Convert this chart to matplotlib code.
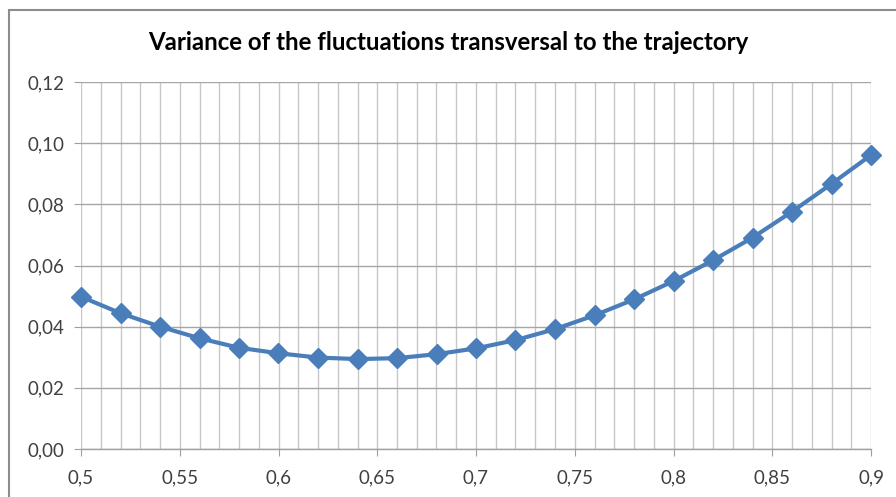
import matplotlib
matplotlib.use("Agg")
import matplotlib.pyplot as plt
from matplotlib.ticker import MultipleLocator, FuncFormatter
from matplotlib.patches import Rectangle

x_values = [0.50, 0.52, 0.54, 0.56, 0.58, 0.60, 0.62, 0.64, 0.66, 0.68, 0.70,
            0.72, 0.74, 0.76, 0.78, 0.80, 0.82, 0.84, 0.86, 0.88, 0.90]
variance = [0.0498, 0.0444, 0.0400, 0.0362, 0.0331, 0.0313, 0.0299, 0.0294, 0.0297,
            0.0310, 0.0329, 0.0356, 0.0392, 0.0437, 0.0489, 0.0549, 0.0617, 0.0691,
            0.0776, 0.0867, 0.0961]
title = "Variance of the fluctuations transversal to the trajectory"

plt.rcParams['font.family'] = ['Lato', 'DejaVu Sans']

W, H = 896, 497
fig = plt.figure(figsize=(W / 100, H / 100), dpi=100)
ax = fig.add_axes([81 / W, 1 - 449 / H, 790 / W, 367 / H])

ax.plot(x_values, variance, color='#4A7EBB', lw=3, marker='D', markersize=10,
        markerfacecolor='#4A7EBB', markeredgecolor='#4A7EBB', zorder=3, clip_on=False)

ax.set_xlim(0.5, 0.9)
ax.set_ylim(0, 0.12)
ax.xaxis.set_major_locator(MultipleLocator(0.05))
ax.xaxis.set_minor_locator(MultipleLocator(0.01))
ax.yaxis.set_major_locator(MultipleLocator(0.02))

def xfmt(v, pos):
    s = f"{v:.2f}".rstrip('0')
    return s.replace('.', ',')

ax.xaxis.set_major_formatter(FuncFormatter(xfmt))
ax.yaxis.set_major_formatter(FuncFormatter(lambda v, p: f"{v:.2f}".replace('.', ',')))

ax.grid(True, which='both', axis='x', color='#C8C8C8', lw=1)
ax.grid(True, which='major', axis='y', color='#A6A6A6', lw=1)
ax.set_axisbelow(True)

for s in ['top', 'right', 'left']:
    ax.spines[s].set_visible(False)
ax.spines['bottom'].set_color('#A0A0A0')
ax.spines['bottom'].set_linewidth(1)

ax.tick_params(axis='x', which='major', length=5, color='#A0A0A0', pad=10,
               labelsize=13.5, labelcolor='#404040')
ax.tick_params(axis='x', which='minor', length=0)
ax.tick_params(axis='y', which='major', length=5, color='#A0A0A0', pad=7,
               labelsize=13.5, labelcolor='#404040')

fig.text(0.5, 1 - 42 / H, title, ha='center', va='center', fontsize=17.3,
         fontweight='bold', color='#000000')

fig.patches.append(Rectangle((9 / W, -10 / H), 900 / W, 497 / H, transform=fig.transFigure,
                             fill=False, edgecolor='#8C8C8C', lw=1.5))

fig.savefig('out.png', dpi=100)
